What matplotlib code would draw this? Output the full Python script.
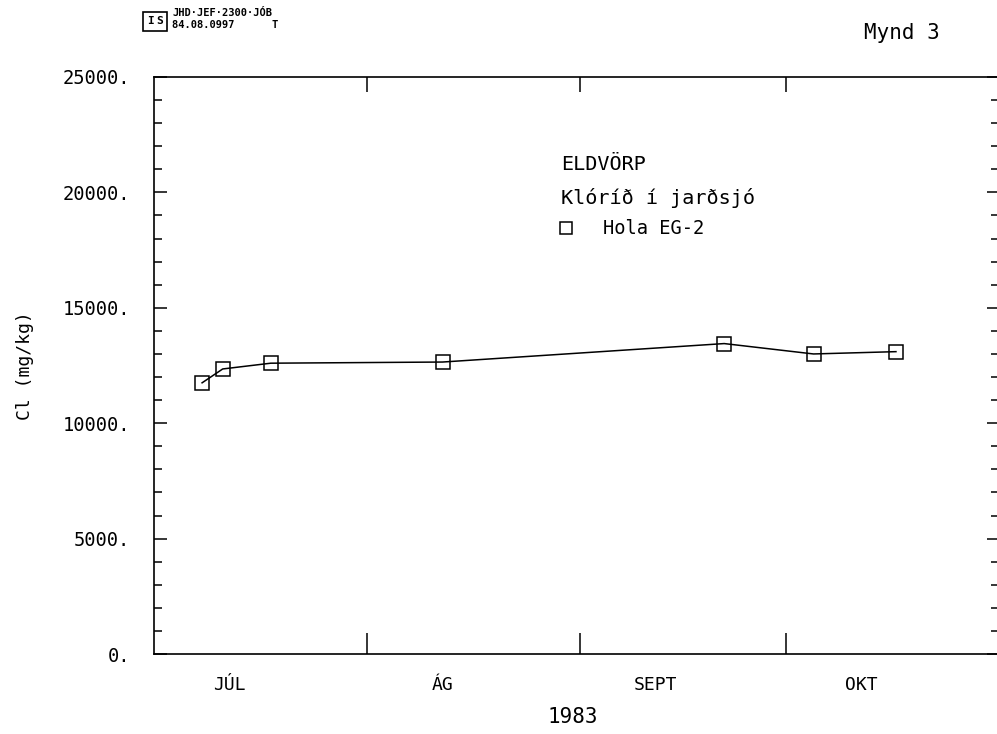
import datetime as dt
import matplotlib
matplotlib.use("Agg")
import matplotlib.pyplot as plt
import matplotlib.dates as mdates
from matplotlib.ticker import FixedLocator, MultipleLocator, NullFormatter
from matplotlib.patches import Rectangle
from matplotlib.lines import Line2D

# Chloride in geothermal brine, well EG-2, Eldvörp 1983
sample_dates = [dt.date(1983, 7, 8), dt.date(1983, 7, 11), dt.date(1983, 7, 18),
                dt.date(1983, 8, 12), dt.date(1983, 9, 22), dt.date(1983, 10, 5),
                dt.date(1983, 10, 17)]
chloride = [11750, 12350, 12600, 12650, 13450, 13000, 13100]

month_labels = ["JÚL", "ÁG", "SEPT", "OKT"]
month_label_dates = [dt.date(1983, 7, 12), dt.date(1983, 8, 12),
                     dt.date(1983, 9, 12), dt.date(1983, 10, 12)]
month_bounds = [dt.date(1983, 8, 1), dt.date(1983, 9, 1), dt.date(1983, 10, 1)]
x_range = [dt.date(1983, 7, 1), dt.date(1983, 11, 1)]
y_range = [0, 25000]

plt.rcParams['font.family'] = ['DejaVu Sans Mono', 'DejaVu Sans']

fig = plt.figure(figsize=(9.97, 7.34), dpi=100)
ax = fig.add_axes([154 / 997, 80 / 734, 845 / 997, 577 / 734])

ax.plot(sample_dates, chloride, color='black', linewidth=1.1, marker='s',
        markersize=10, markerfacecolor='none', markeredgecolor='black',
        markeredgewidth=1.1)

ax.set_xlim(mdates.date2num(x_range[0]), mdates.date2num(x_range[1]))
ax.set_ylim(*y_range)

# y axis: labelled majors every 5000, minors every 1000, ticks on both sides
ax.yaxis.set_major_locator(MultipleLocator(5000))
ax.yaxis.set_minor_locator(MultipleLocator(1000))
ax.yaxis.set_major_formatter(lambda v, p: f"{int(v)}.")
ax.tick_params(axis='y', which='both', direction='in', left=True, right=True,
               labelsize=13.5, pad=17, width=1.1)
ax.tick_params(axis='y', which='major', length=9)
ax.tick_params(axis='y', which='minor', length=6)

# x axis: ticks at month boundaries, month names mid-month
ax.xaxis.set_major_locator(FixedLocator(mdates.date2num(month_bounds)))
ax.xaxis.set_major_formatter(NullFormatter())
ax.set_xticks(mdates.date2num(month_label_dates), month_labels, minor=True)
ax.tick_params(axis='x', which='major', direction='in', length=15, width=1.1, bottom=True)
ax.tick_params(axis='x', which='minor', length=0, labelsize=13, pad=16)

top = ax.secondary_xaxis('top')
top.set_xticks(mdates.date2num(month_bounds))
top.tick_params(axis='x', direction='in', length=11, width=1.1, labeltop=False)
top.spines['top'].set_visible(False)

for side in ['left', 'bottom', 'top']:
    ax.spines[side].set_linewidth(1.2)
ax.spines['right'].set_visible(False)

ax.set_ylabel("Cl (mg/kg)", fontsize=13)
ax.yaxis.set_label_coords(-0.142, 0.5)
ax.set_xlabel("1983", fontsize=15)
ax.xaxis.set_label_coords(0.495, -0.092)

# annotation block
ax.text(0.4817, 0.849, "ELDVÖRP", transform=ax.transAxes, fontsize=14.5,
        ha='left', va='center')
ax.text(0.4817, 0.790, "Klóríð í jarðsjó", transform=ax.transAxes, fontsize=14.5,
        ha='left', va='center')
key = Line2D([], [], linestyle='none', marker='s', markersize=9,
             markerfacecolor='none', markeredgecolor='black', markeredgewidth=1.1)
ax.legend([key], ['Hola EG-2'], loc='center left', bbox_to_anchor=(0.476, 0.7366),
          frameon=False, fontsize=13.5, handlelength=1.0, handletextpad=1.5,
          borderpad=0, borderaxespad=0, numpoints=1)

# header
fig.text(940 / 997, 1 - 33 / 734, "Mynd 3", fontsize=15, ha='right', va='center')
fig.patches.append(Rectangle((143 / 997, 1 - 31 / 734), 24 / 997, 19 / 734,
                             transform=fig.transFigure, fill=False,
                             edgecolor='black', linewidth=1.2))
fig.text(150 / 997, 1 - 21.5 / 734, "I", fontsize=8, fontweight='bold',
         ha='center', va='center')
fig.text(160 / 997, 1 - 21.5 / 734, "S", fontsize=8, fontweight='bold',
         ha='center', va='center')
fig.text(172 / 997, 1 - 13 / 734, "JHD·JEF·2300·JÓB", fontsize=7.5,
         fontweight='bold', ha='left', va='center')
fig.text(172 / 997, 1 - 25 / 734, "84.08.0997      T", fontsize=7.5,
         fontweight='bold', ha='left', va='center')

fig.savefig("out.png", dpi=100)
